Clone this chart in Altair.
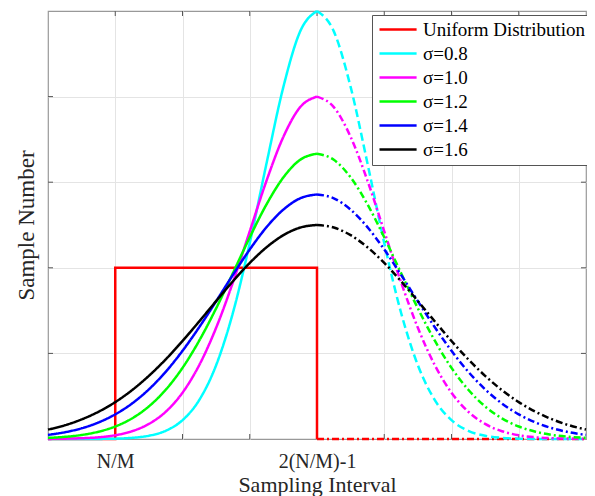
import altair as alt
import pandas as pd

# ---------------- data ----------------
x_grid = [0, 0.25, 0.5, 0.75, 1, 1.25, 1.5, 1.75, 2, 2.25, 2.5, 2.75, 3, 3.25, 3.5, 3.75,
          4, 4.25, 4.5, 4.75, 5, 5.25, 5.5, 5.75, 6, 6.25, 6.5, 6.75, 7, 7.25, 7.5, 7.75, 8]

s08 = [0.0, 0.0, 0.0, 0.001, 0.004, 0.014, 0.038, 0.096, 0.220, 0.457, 0.862, 1.475, 2.289,
       3.222, 4.113, 4.762, 5.0, 4.762, 4.113, 3.222, 2.289, 1.475, 0.862, 0.457, 0.220,
       0.096, 0.038, 0.014, 0.004, 0.001, 0.0, 0.0, 0.0]
s10 = [0.001, 0.004, 0.009, 0.020, 0.044, 0.091, 0.176, 0.318, 0.541, 0.865, 1.299, 1.831,
       2.426, 3.019, 3.530, 3.877, 4.0, 3.877, 3.530, 3.019, 2.426, 1.831, 1.299, 0.865,
       0.541, 0.318, 0.176, 0.091, 0.044, 0.020, 0.009, 0.004, 0.001]
s12 = [0.013, 0.025, 0.047, 0.085, 0.146, 0.241, 0.381, 0.575, 0.831, 1.151, 1.526, 1.938,
       2.356, 2.742, 3.056, 3.262, 3.333, 3.262, 3.056, 2.742, 2.356, 1.938, 1.526, 1.151,
       0.831, 0.575, 0.381, 0.241, 0.146, 0.085, 0.047, 0.025, 0.013]
s14 = [0.048, 0.079, 0.125, 0.193, 0.288, 0.415, 0.580, 0.785, 1.030, 1.308, 1.609, 1.918,
       2.214, 2.475, 2.680, 2.812, 2.857, 2.812, 2.680, 2.475, 2.214, 1.918, 1.609, 1.308,
       1.030, 0.785, 0.580, 0.415, 0.288, 0.193, 0.125, 0.079, 0.048]
s16 = [0.110, 0.160, 0.229, 0.318, 0.431, 0.571, 0.738, 0.930, 1.145, 1.375, 1.611, 1.843,
       2.057, 2.240, 2.381, 2.470, 2.5, 2.470, 2.381, 2.240, 2.057, 1.843, 1.611, 1.375,
       1.145, 0.930, 0.738, 0.571, 0.431, 0.318, 0.229, 0.160, 0.110]

uniform_x_solid = [0, 1, 1, 4, 4]
uniform_y_solid = [0, 0, 2, 2, 0]
uniform_x_dash = [4, 8]
uniform_y_dash = [0, 0]

series_names = ["Uniform Distribution", "σ=0.8", "σ=1.0", "σ=1.2", "σ=1.4", "σ=1.6"]
series_colors = ["#ff0000", "#00ffff", "#ff00ff", "#00ff00", "#0000ff", "#000000"]

x_tick_values = [1, 2, 3, 4, 5, 6, 7]
x_tick_labels = ["N/M", "", "", "2(N/M)-1", "", "", ""]
y_tick_values = [1, 2, 3, 4]

PEAK_X = 4

# ---------------- build tables ----------------
gauss = {"σ=0.8": s08, "σ=1.0": s10, "σ=1.2": s12, "σ=1.4": s14, "σ=1.6": s16}
rows = []
for name, ys in gauss.items():
    for xv, yv in zip(x_grid, ys):
        if xv <= PEAK_X:
            rows.append({"x": xv, "y": yv, "series": name, "style": name + " solid"})
        if xv >= PEAK_X:
            rows.append({"x": xv, "y": yv, "series": name, "style": name + " dash"})
df_g = pd.DataFrame(rows)

urows = []
for xv, yv in zip(uniform_x_solid, uniform_y_solid):
    urows.append({"x": xv, "y": yv, "series": series_names[0], "style": "u solid", "o": len(urows)})
for xv, yv in zip(uniform_x_dash, uniform_y_dash):
    urows.append({"x": xv, "y": yv, "series": series_names[0], "style": "u dash", "o": len(urows)})
df_u = pd.DataFrame(urows)

style_domain = ["u solid", "u dash"]
style_range = [[1, 0], [7, 3, 2, 3]]
for name in gauss:
    style_domain += [name + " solid", name + " dash"]
    style_range += [[1, 0], [8, 4] if name == "σ=0.8" else [7, 3, 2, 3]]

FONT = "Liberation Serif"
W, H = 538, 428

xscale = alt.Scale(domain=[0, 8], nice=False, zero=False)
yscale = alt.Scale(domain=[0, 5], nice=False)

label_expr = " : ".join(
    [f"datum.value == {v} ? '{t}'" for v, t in zip(x_tick_values, x_tick_labels) if t]
) + " : ''"

color_enc = alt.Color(
    "series:N",
    scale=alt.Scale(domain=series_names, range=series_colors),
    legend=alt.Legend(
        title=None, orient="none", legendX=324, legendY=4,
        fillColor="white", strokeColor="#555555", padding=5,
        labelFont=FONT, labelFontSize=19, labelColor="black", labelOffset=27,
        symbolType="M-1,0L4.3,0", symbolSize=196, symbolStrokeWidth=2.5,
        symbolFillColor="transparent",
        rowPadding=4, labelLimit=400, cornerRadius=0,
    ),
)
dash_enc = alt.StrokeDash(
    "style:N", scale=alt.Scale(domain=style_domain, range=style_range), legend=None
)

x_axis = alt.Axis(
    values=x_tick_values, labelExpr=label_expr, grid=True, gridColor="#e4e4e4",
    domain=False, ticks=False, labelFont=FONT, labelFontSize=20, labelColor="#262626",
    labelAlign="center", labelBaseline="alphabetic", labelPadding=28, labelFlush=False,
    labelOverlap=False, title="Sampling Interval", titleFont=FONT, titleFontSize=22,
    titleFontWeight="normal", titleColor="#262626", titleX=W / 2, titleY=52,
    titleBaseline="alphabetic", titleAlign="center",
)
y_axis = alt.Axis(
    values=y_tick_values, grid=True, gridColor="#e4e4e4", domain=False, ticks=False,
    labels=False, title="Sample Number", titleFont=FONT, titleFontSize=23,
    titleFontWeight="normal", titleColor="#262626", titleX=-15, titleY=H / 2,
    titleAngle=270, titleBaseline="alphabetic", titleAlign="center",
)

uni = alt.Chart(df_u).mark_line(strokeWidth=2.5, interpolate="linear").encode(
    x=alt.X("x:Q", scale=xscale, axis=x_axis),
    y=alt.Y("y:Q", scale=yscale, axis=y_axis),
    color=color_enc,
    strokeDash=dash_enc,
    order="o:Q",
)

gl = alt.Chart(df_g).mark_line(strokeWidth=2.5, interpolate="monotone").encode(
    x=alt.X("x:Q", scale=xscale),
    y=alt.Y("y:Q", scale=yscale),
    color=color_enc,
    strokeDash=dash_enc,
    order="x:Q",
)

# inward MATLAB-style ticks
df_xt = pd.DataFrame({"v": x_tick_values})
df_yt = pd.DataFrame({"v": y_tick_values})
TICK = 5
tick_col = "#555555"
xt_bottom = alt.Chart(df_xt).mark_rule(color=tick_col, strokeWidth=1).encode(
    x=alt.X("v:Q", scale=xscale), y=alt.value(H), y2=alt.value(H - TICK))
xt_top = alt.Chart(df_xt).mark_rule(color=tick_col, strokeWidth=1).encode(
    x=alt.X("v:Q", scale=xscale), y=alt.value(0), y2=alt.value(TICK))
yt_left = alt.Chart(df_yt).mark_rule(color=tick_col, strokeWidth=1).encode(
    y=alt.Y("v:Q", scale=yscale), x=alt.value(0), x2=alt.value(TICK))
yt_right = alt.Chart(df_yt).mark_rule(color=tick_col, strokeWidth=1).encode(
    y=alt.Y("v:Q", scale=yscale), x=alt.value(W), x2=alt.value(W - TICK))

chart = (
    alt.layer(xt_bottom, xt_top, yt_left, yt_right, uni, gl)
    .resolve_scale(color="shared", strokeDash="shared")
    .properties(
        width=W, height=H,
        autosize=alt.AutoSizeParams(type="none"),
        padding={"left": 40, "top": 3, "right": 1, "bottom": 57},
        background="white",
    )
    .configure_view(stroke="#999999", strokeWidth=1.2)
)

chart.save("out.html", embed_options={"renderer": "svg", "actions": False})
